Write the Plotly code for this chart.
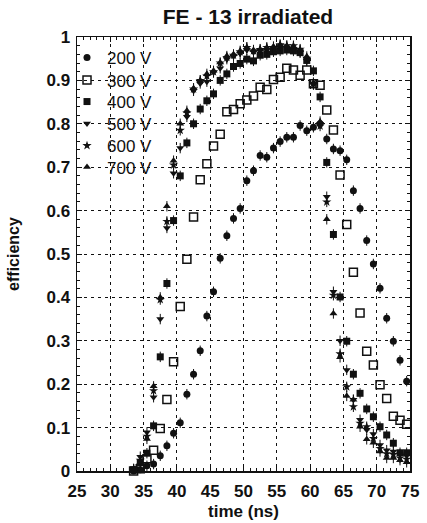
import plotly.graph_objects as go

# time bins (ns)
time_ns = [33.5 + i for i in range(42)]  # 33.5 .. 74.5

v200 = [0.000, 0.003, 0.012, 0.016, 0.035, 0.058, 0.087, 0.111, 0.177, 0.223,
        0.277, 0.357, 0.413, 0.490, 0.542, 0.582, 0.605, 0.669, 0.692, 0.727,
        0.723, 0.744, 0.759, 0.769, 0.769, 0.796, 0.784, 0.792, 0.800, 0.765,
        0.742, 0.738, 0.717, 0.646, 0.605, 0.531, 0.477, 0.421, 0.352, 0.299,
        0.255, 0.207]
v300 = [0.000, 0.005, 0.028, 0.048, 0.098, 0.165, 0.252, 0.379, 0.488, 0.585,
        0.671, 0.708, 0.749, 0.776, 0.828, 0.833, 0.846, 0.855, 0.864, 0.884,
        0.879, 0.902, 0.907, 0.928, 0.924, 0.912, 0.924, 0.892, 0.889, 0.832,
        0.786, 0.682, 0.568, 0.458, 0.364, 0.276, 0.244, 0.199, 0.167, 0.126,
        0.117, 0.108]
v400 = [0.003, 0.019, 0.041, 0.104, 0.263, 0.432, 0.577, 0.680, 0.756, 0.800,
        0.834, 0.853, 0.869, 0.900, 0.915, 0.932, 0.939, 0.949, 0.945, 0.958,
        0.960, 0.966, 0.968, 0.970, 0.968, 0.964, 0.946, 0.922, 0.862, 0.711,
        0.545, 0.401, 0.299, 0.223, 0.179, 0.143, 0.125, 0.102, 0.083, 0.064,
        0.042, 0.042]
v500 = [0.005, 0.033, 0.089, 0.170, 0.350, 0.560, 0.686, 0.744, 0.816, 0.876,
        0.893, 0.897, 0.918, 0.928, 0.949, 0.955, 0.962, 0.970, 0.965, 0.968,
        0.970, 0.972, 0.975, 0.975, 0.972, 0.965, 0.945, 0.890, 0.800, 0.632,
        0.413, 0.300, 0.233, 0.164, 0.118, 0.095, 0.085, 0.060, 0.048, 0.045,
        0.038, 0.035]
v600 = [0.004, 0.025, 0.080, 0.185, 0.395, 0.575, 0.705, 0.785, 0.825, 0.880,
        0.900, 0.910, 0.920, 0.940, 0.953, 0.958, 0.966, 0.976, 0.968, 0.971,
        0.976, 0.976, 0.982, 0.980, 0.980, 0.972, 0.951, 0.893, 0.795, 0.620,
        0.405, 0.270, 0.194, 0.148, 0.110, 0.102, 0.075, 0.052, 0.040, 0.038,
        0.030, 0.027]
v700 = [0.003, 0.020, 0.074, 0.195, 0.400, 0.610, 0.715, 0.800, 0.830, 0.882,
        0.900, 0.915, 0.922, 0.941, 0.956, 0.960, 0.968, 0.976, 0.970, 0.972,
        0.975, 0.978, 0.982, 0.980, 0.978, 0.970, 0.955, 0.895, 0.805, 0.580,
        0.363, 0.262, 0.173, 0.164, 0.102, 0.073, 0.065, 0.045, 0.030, 0.030,
        0.025, 0.020]

series_names = ["200 V", "300 V", "400 V", "500 V", "600 V", "700 V"]
series_values = [v200, v300, v400, v500, v600, v700]
symbols = ["circle", "square-open", "square", "triangle-down", "star", "triangle-up"]
sizes = [7, 8, 7, 7, 7, 7]
x_ticks = [25, 30, 35, 40, 45, 50, 55, 60, 65, 70, 75]
y_ticks = [0, 0.1, 0.2, 0.3, 0.4, 0.5, 0.6, 0.7, 0.8, 0.9, 1]
y_ticklabels = ["0", "0.1", "0.2", "0.3", "0.4", "0.5", "0.6", "0.7", "0.8", "0.9", "1"]

# layout: legend row positions (pixels from top of page)
legend_rows_px = [58, 80.5, 102, 124, 146, 167.5]

FONT = "Liberation Sans, Arial, Helvetica, sans-serif"
INK = "#111111"
W, H = 427, 523
M = dict(l=77, r=17, t=37, b=52)
plot_h = H - M["t"] - M["b"]

fig = go.Figure()
legend_ids = ["legend"] + [f"legend{i}" for i in range(2, len(series_names) + 1)]
for name, vals, sym, sz, lid in zip(series_names, series_values, symbols, sizes, legend_ids):
    fig.add_trace(go.Scatter(
        x=time_ns, y=vals, name=name, mode="markers", legend=lid,
        marker=dict(symbol=sym, size=sz, color=INK,
                    line=dict(color=INK, width=1.5 if sym == "square-open" else 0)),
        error_y=dict(type="constant", value=0.012, width=0, thickness=1,
                     color=INK, visible=(sym != "square-open")),
        cliponaxis=False,
    ))

axis_common = dict(
    showline=True, linecolor=INK, linewidth=1.5, mirror="allticks",
    ticks="inside", ticklen=5, tickcolor=INK, tickwidth=1,
    showgrid=True, gridcolor=INK, gridwidth=1, griddash="3px,4px",
    zeroline=False, automargin=False,
    tickfont=dict(family=FONT, size=17, color=INK, weight="bold"),
)

fig.update_xaxes(
    range=[25, 75], tickvals=x_ticks, **axis_common,
    ticklabelstandoff=4,
    minor=dict(ticks="inside", ticklen=3, dtick=1, tickcolor=INK, showgrid=False),
    title=dict(text="time (ns)", font=dict(family=FONT, size=17, color=INK, weight="bold"),
               standoff=5),
)
fig.update_yaxes(
    range=[0, 1], tickvals=y_ticks, ticktext=y_ticklabels, **axis_common,
    ticklabelstandoff=2,
    minor=dict(ticks="inside", ticklen=3, dtick=0.02, tickcolor=INK, showgrid=False),
    title=dict(text="efficiency", font=dict(family=FONT, size=16, color=INK, weight="bold"),
               standoff=23),
)

legend_layout = {}
for lid, py in zip(legend_ids, legend_rows_px):
    legend_layout[lid] = dict(
        x=-0.03, y=1 - (py - M["t"]) / plot_h, xanchor="left", yanchor="middle",
        bgcolor="rgba(0,0,0,0)", borderwidth=0,
        font=dict(family=FONT, size=17, color=INK), itemwidth=30,
    )

fig.update_layout(
    width=W, height=H,
    margin=M,
    paper_bgcolor="white", plot_bgcolor="white",
    title=dict(text="<b>FE - 13 irradiated</b>", x=(248 - 77) / 333, xref="paper",
               xanchor="center", y=0.982, yanchor="top",
               font=dict(family=FONT, size=21, color=INK)),
    showlegend=True,
    **legend_layout,
)

fig.write_html("out.html",
               config={"displayModeBar": False, "staticPlot": True},
               post_script="document.body.style.margin='0';document.body.style.padding='0';")
